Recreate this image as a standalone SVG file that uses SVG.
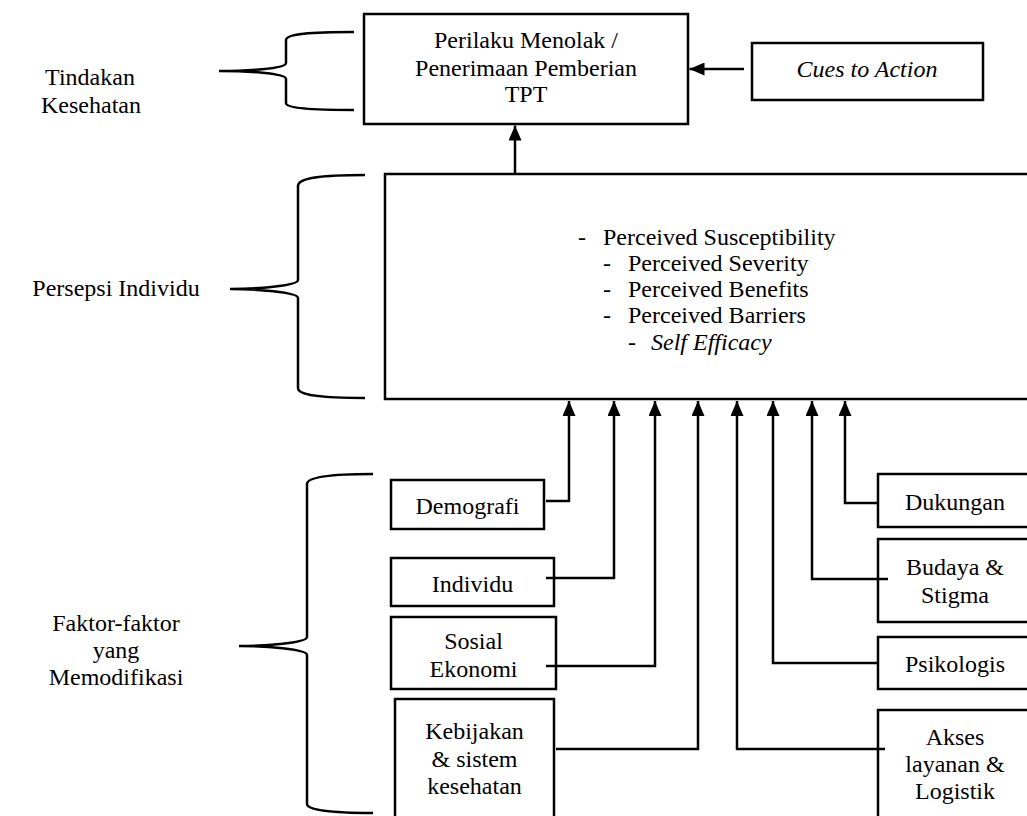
<svg xmlns="http://www.w3.org/2000/svg" width="1027" height="816" viewBox="0 0 1027 816">
<style>
  text { font-family: "Liberation Serif", "Times New Roman", serif; font-size: 24px; fill: #000; }
  .c { text-anchor: middle; }
  .i { font-style: italic; }
  .box { fill: #fff; stroke: #000; stroke-width: 2.5; }
  .ln { fill: none; stroke: #000; stroke-width: 2.5; }
  .br { fill: none; stroke: #000; stroke-width: 2.5; }
</style>
<defs>
  <marker id="ah" viewBox="0 0 15 13" refX="15" refY="6.5" markerWidth="15" markerHeight="13" markerUnits="userSpaceOnUse" orient="auto">
    <path d="M0,0 L15,6.5 L0,13 z" fill="#000"/>
  </marker>
</defs>
<rect width="1027" height="816" fill="#fff"/>

<g id="brace-tindakan">
  <path class="br" d="M354,32 C310,32 286,34 286,40 L286,63 C286,69 245,71 219,71 C245,71 286,73 286,79 L286,103 C286,108 310,110 354,110"/>
  <text class="c" x="90" y="85">Tindakan</text>
  <text class="c" x="91" y="113">Kesehatan</text>
</g>

<g id="brace-persepsi">
  <path class="br" d="M365,175 C320,175 298,178 298,186 L298,280 C298,286 255,289 230,289 C255,289 298,292 298,298 L298,388 C298,395 320,398 365,398"/>
  <text class="c" x="116" y="296">Persepsi Individu</text>
</g>

<g id="brace-faktor">
  <path class="br" d="M373,474 C330,474 307,477 307,484 L307,637 C307,643 265,646 239,646 C265,646 307,649 307,655 L307,804 C307,810 330,813 373,813"/>
  <text class="c" x="116" y="631">Faktor-faktor</text>
  <text class="c" x="116" y="658">yang</text>
  <text class="c" x="116" y="685">Memodifikasi</text>
</g>

<g id="connectors">
  <line class="ln" x1="744" y1="69" x2="689.5" y2="69" marker-end="url(#ah)"/>
  <line class="ln" x1="515" y1="174" x2="515" y2="125.5" marker-end="url(#ah)"/>
  <polyline class="ln" points="546,501 569,501 569,401" marker-end="url(#ah)"/>
  <polyline class="ln" points="547,578 614,578 614,401" marker-end="url(#ah)"/>
  <polyline class="ln" points="547,666 655,666 655,401" marker-end="url(#ah)"/>
  <polyline class="ln" points="556,749 698,749 698,401" marker-end="url(#ah)"/>
  <polyline class="ln" points="885,749 737,749 737,401" marker-end="url(#ah)"/>
  <polyline class="ln" points="878,663 773,663 773,401" marker-end="url(#ah)"/>
  <polyline class="ln" points="888,579 812,579 812,401" marker-end="url(#ah)"/>
  <polyline class="ln" points="878,503 845,503 845,401" marker-end="url(#ah)"/>
</g>

<g id="perilaku">
  <rect class="box" x="364" y="14" width="324" height="110"/>
  <text class="c" x="526" y="48">Perilaku Menolak /</text>
  <text class="c" x="526" y="76">Penerimaan Pemberian</text>
  <text class="c" x="526" y="102">TPT</text>
</g>

<g id="cues">
  <rect class="box" x="752" y="43" width="231" height="57"/>
  <text class="c i" x="867" y="77">Cues to Action</text>
</g>

<g id="persepsi">
  <rect class="box" x="385" y="174" width="650" height="225"/>
  <text x="578" y="245">-</text>
  <text x="603" y="245">Perceived Susceptibility</text>
  <text x="603" y="271">-</text>
  <text x="628" y="271">Perceived Severity</text>
  <text x="603" y="297">-</text>
  <text x="628" y="297">Perceived Benefits</text>
  <text x="603" y="323">-</text>
  <text x="628" y="323">Perceived Barriers</text>
  <text x="628" y="350">-</text>
  <text class="i" x="651" y="350">Self Efficacy</text>
</g>

<g id="demografi">
  <rect class="box" x="391" y="480" width="153" height="49"/>
  <text class="c" x="467.5" y="514">Demografi</text>
</g>
<g id="individu">
  <rect class="box" x="391" y="558" width="163" height="48"/>
  <text class="c" x="472.5" y="592">Individu</text>
</g>
<g id="sosial">
  <rect class="box" x="391" y="617" width="165" height="72"/>
  <text class="c" x="473.5" y="649">Sosial</text>
  <text class="c" x="473.5" y="677">Ekonomi</text>
</g>
<g id="kebijakan">
  <rect class="box" x="395" y="699" width="159" height="130"/>
  <text class="c" x="474.5" y="739">Kebijakan</text>
  <text class="c" x="474.5" y="767">&amp; sistem</text>
  <text class="c" x="474.5" y="794">kesehatan</text>
</g>

<g id="dukungan">
  <rect class="box" x="878" y="474" width="154" height="53"/>
  <text class="c" x="955" y="510">Dukungan</text>
</g>
<g id="budaya">
  <rect class="box" x="878" y="539" width="154" height="83"/>
  <text class="c" x="955" y="575">Budaya &amp;</text>
  <text class="c" x="955" y="603">Stigma</text>
</g>
<g id="psikologis">
  <rect class="box" x="878" y="637" width="154" height="52"/>
  <text class="c" x="955" y="672">Psikologis</text>
</g>
<g id="akses">
  <rect class="box" x="878" y="710" width="154" height="120"/>
  <text class="c" x="955" y="745">Akses</text>
  <text class="c" x="955" y="772">layanan &amp;</text>
  <text class="c" x="955" y="799">Logistik</text>
</g>

<g id="connector-overlaps">
  <line class="ln" x1="546" y1="578" x2="556" y2="578"/>
  <line class="ln" x1="546" y1="666" x2="557" y2="666"/>
  <line class="ln" x1="877" y1="579" x2="888" y2="579"/>
  <line class="ln" x1="877" y1="749" x2="885" y2="749"/>
</g>
</svg>
